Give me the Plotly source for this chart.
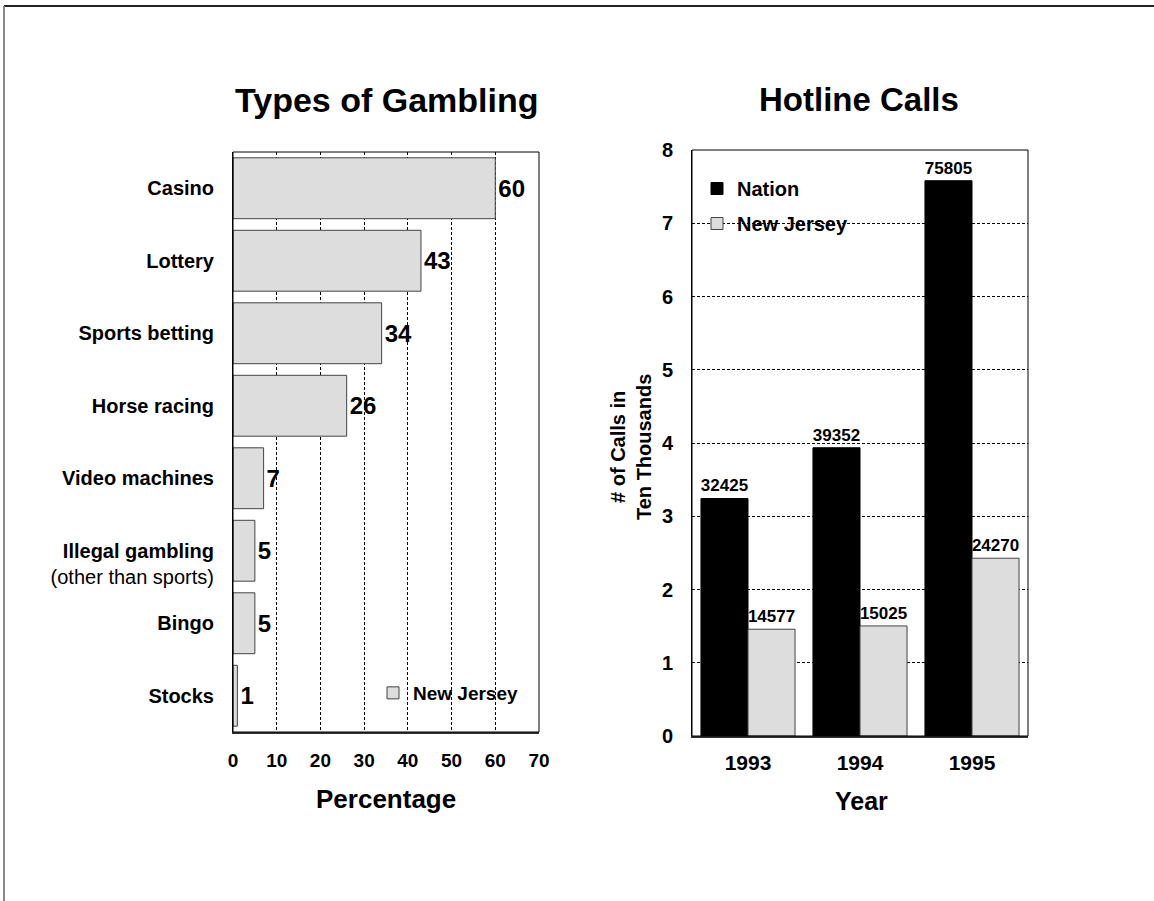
import plotly.graph_objects as go

# ---- data ----
gambling_types = ["Casino", "Lottery", "Sports betting", "Horse racing",
                  "Video machines", "Illegal gambling", "Bingo", "Stocks"]
gambling_labels = ["<b>Casino</b>", "<b>Lottery</b>", "<b>Sports betting</b>",
                   "<b>Horse racing</b>", "<b>Video machines</b>",
                   " <br><b>Illegal gambling</b><br>(other than sports)",
                   "<b>Bingo</b>", "<b>Stocks</b>"]
nj_percent = [60, 43, 34, 26, 7, 5, 5, 1]
pct_ticks = [0, 10, 20, 30, 40, 50, 60, 70]

years = ["1993", "1994", "1995"]
nation_calls = [32425, 39352, 75805]
nj_calls = [14577, 15025, 24270]
calls_ticks = [0, 1, 2, 3, 4, 5, 6, 7, 8]

W, H = 1154, 901
FONT = "Arial, Liberation Sans, sans-serif"
GRAY = "#dddddd"
EDGE = "#444444"

def px(x):
    return x / W

def py(y):
    return 1 - y / H

fig = go.Figure()

# left chart
fig.add_trace(go.Bar(
    y=gambling_types, x=nj_percent, orientation="h",
    name="<b>New Jersey</b>", marker=dict(color=GRAY, line=dict(color=EDGE, width=1)),
    text=[f"<b>{v}</b>" for v in nj_percent], textposition="outside",
    textfont=dict(size=24, color="black", family=FONT),
    cliponaxis=False, constraintext="none",
    xaxis="x", yaxis="y", legend="legend", hoverinfo="skip",
))

# right chart
fig.add_trace(go.Bar(
    x=years, y=[v / 10000 for v in nation_calls], name="<b>Nation</b>",
    marker=dict(color="black", line=dict(color="black", width=1)),
    text=[f"<b>{v}</b>" for v in nation_calls], textposition="outside",
    textfont=dict(size=17, color="black", family=FONT),
    cliponaxis=False, constraintext="none",
    xaxis="x2", yaxis="y2", legend="legend2", legendgroup="a", hoverinfo="skip",
))
fig.add_trace(go.Bar(
    x=years, y=[v / 10000 for v in nj_calls], name="<b>New Jersey</b>",
    marker=dict(color=GRAY, line=dict(color=EDGE, width=1)),
    text=[f"<b>{v}</b>" for v in nj_calls], textposition="outside",
    textfont=dict(size=17, color="black", family=FONT),
    cliponaxis=False, constraintext="none",
    xaxis="x2", yaxis="y2", legend="legend2", legendgroup="b", hoverinfo="skip",
))

grid = dict(showgrid=True, gridcolor="black", gridwidth=1, griddash="3px,2px")
bold = lambda s: dict(size=s, weight="bold", color="black", family=FONT)

fig.update_layout(
    width=W, height=H, autosize=False,
    margin=dict(l=0, r=0, t=0, b=0),
    paper_bgcolor="white", plot_bgcolor="white",
    font=dict(family=FONT, color="black"),
    barmode="group", bargap=0.16, bargroupgap=0,
    showlegend=True,
    xaxis=dict(domain=[px(233), px(539)], range=[0, 70], tickvals=pct_ticks,
               tickfont=bold(19), ticklabelstandoff=10, zeroline=False,
               showline=True, linecolor="#333333", linewidth=2, automargin=False,
               anchor="y", **grid),
    yaxis=dict(domain=[py(732), py(152)], categoryorder="array",
               categoryarray=gambling_types, autorange="reversed",
               tickvals=gambling_types, ticktext=gambling_labels,
               tickfont=dict(size=20, color="black", family=FONT),
               ticklabelstandoff=14, showgrid=False,
               zeroline=False, showline=True, linecolor="black", linewidth=1,
               automargin=False, anchor="x"),
    xaxis2=dict(domain=[px(692), px(1028)], tickfont=bold(21),
                ticklabelstandoff=7, showgrid=False, zeroline=False,
                showline=True, linecolor="#333333", linewidth=2,
                automargin=False, anchor="y2"),
    yaxis2=dict(domain=[py(736), py(150)], range=[0, 8], tickvals=calls_ticks,
                tickfont=bold(20), ticklabelstandoff=14, zeroline=False,
                showline=True, linecolor="black", linewidth=1,
                automargin=False, anchor="x2", **grid),
    legend=dict(x=px(373), y=py(693), xanchor="left", yanchor="middle",
                bgcolor="rgba(0,0,0,0)", font=dict(size=19, color="black")),
    legend2=dict(x=px(697), y=py(206), xanchor="left", yanchor="middle",
                 bgcolor="rgba(0,0,0,0)", font=dict(size=20, color="black"),
                 tracegroupgap=6),
)

# frames around the plot areas and page border
for xr, yr in (("x domain", "y domain"), ("x2 domain", "y2 domain")):
    fig.add_shape(type="rect", xref=xr, yref=yr, x0=0, x1=1, y0=0, y1=1,
                  line=dict(color="black", width=1), layer="above")
fig.add_shape(type="line", xref="paper", yref="paper", x0=px(4), x1=1,
              y0=py(6), y1=py(6), line=dict(color="#222222", width=2))
fig.add_shape(type="line", xref="paper", yref="paper", x0=px(4), x1=px(4),
              y0=py(6), y1=0, line=dict(color="#888888", width=2))

# titles
ann = [
    dict(text="<b>Types of Gambling</b>", x=px(387), y=py(100), size=34),
    dict(text="<b>Hotline Calls</b>", x=px(859), y=py(100), size=33),
    dict(text="<b>Percentage</b>", x=px(386), y=py(799), size=26),
    dict(text="<b>Year</b>", x=px(861), y=py(801), size=25),
]
for a in ann:
    fig.add_annotation(text=a["text"], x=a["x"], y=a["y"], xref="paper", yref="paper",
                       xanchor="center", yanchor="middle", showarrow=False,
                       font=dict(size=a["size"], color="black", family=FONT))
fig.add_annotation(text="<b># of Calls in<br>Ten Thousands</b>", x=px(631), y=py(447),
                   xref="paper", yref="paper", xanchor="center", yanchor="middle",
                   textangle=-90, showarrow=False,
                   font=dict(size=20, color="black", family=FONT))

fig.write_html("out.html", config={"displayModeBar": False},
               post_script="document.body.style.margin='0';")
